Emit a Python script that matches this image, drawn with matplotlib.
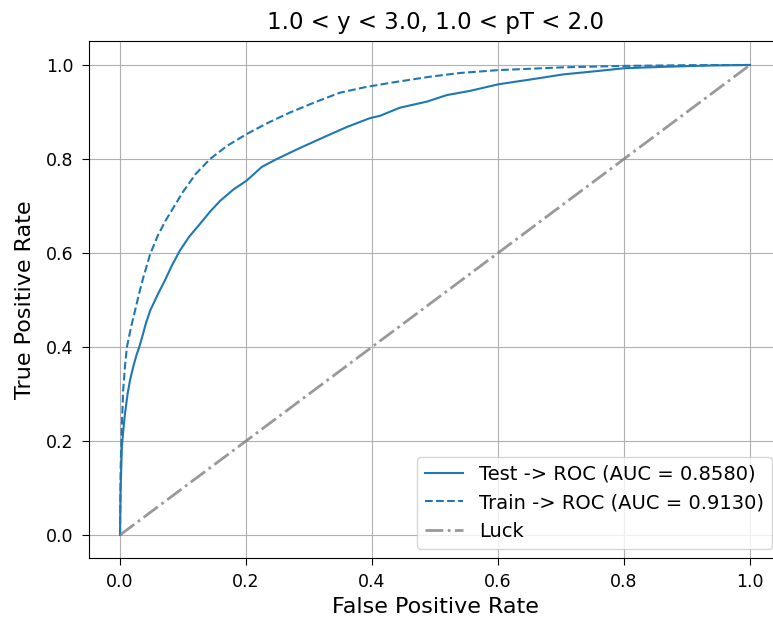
import matplotlib
matplotlib.use('Agg')
import matplotlib.pyplot as plt

# ROC points
test_fpr = [0.0, 0.001, 0.003, 0.005, 0.008, 0.012, 0.016, 0.021, 0.026, 0.031, 0.036,
            0.041, 0.048, 0.053, 0.060, 0.071, 0.083, 0.095, 0.110, 0.127, 0.143, 0.159,
            0.180, 0.201, 0.225, 0.249, 0.285, 0.323, 0.360, 0.397, 0.413, 0.444, 0.487,
            0.519, 0.556, 0.601, 0.651, 0.704, 0.757, 0.800, 0.862, 0.940, 1.0]
test_tpr = [0.0, 0.10, 0.188, 0.22, 0.259, 0.30, 0.33, 0.358, 0.382, 0.402, 0.425,
            0.450, 0.478, 0.492, 0.512, 0.541, 0.575, 0.605, 0.635, 0.662, 0.688, 0.711,
            0.735, 0.754, 0.783, 0.800, 0.823, 0.846, 0.868, 0.887, 0.892, 0.909, 0.922,
            0.936, 0.945, 0.959, 0.969, 0.980, 0.987, 0.993, 0.996, 0.999, 1.0]

train_fpr = [0.0, 0.001, 0.003, 0.005, 0.008, 0.011, 0.014, 0.018, 0.024, 0.030, 0.037,
             0.048, 0.060, 0.072, 0.085, 0.100, 0.120, 0.143, 0.170, 0.201, 0.235, 0.270,
             0.310, 0.349, 0.390, 0.429, 0.492, 0.540, 0.600, 0.704, 0.800, 0.900, 1.0]
train_tpr = [0.0, 0.14, 0.237, 0.308, 0.36, 0.40, 0.42, 0.445, 0.478, 0.512, 0.548,
             0.598, 0.637, 0.668, 0.697, 0.730, 0.768, 0.800, 0.828, 0.853, 0.877, 0.899,
             0.921, 0.941, 0.953, 0.962, 0.975, 0.983, 0.989, 0.995, 0.998, 0.9995, 1.0]

test_auc = 0.8580
train_auc = 0.9130

fig = plt.figure(figsize=(7.73, 6.18), dpi=100)
# right edge of the axes runs past the figure, as in the cropped original
ax = fig.add_axes([0.1145, 0.0963, 0.8965, 0.8366])

ax.plot(test_fpr, test_tpr, color='#1f77b4', lw=1.5,
        label=f'Test -> ROC (AUC = {test_auc:.4f})')
ax.plot(train_fpr, train_tpr, color='#1f77b4', lw=1.5, linestyle='--',
        label=f'Train -> ROC (AUC = {train_auc:.4f})')
ax.plot([0, 1], [0, 1], linestyle='-.', lw=2, color='grey', alpha=0.8, label='Luck')

ax.set_xlim(-0.05, 1.05)
ax.set_ylim(-0.05, 1.05)
ax.set_xlabel('False Positive Rate', fontsize=16, labelpad=4)
ax.set_ylabel('True Positive Rate', fontsize=16, labelpad=8)
ax.set_title('1.0 < y < 3.0, 1.0 < pT < 2.0', fontsize=16.5, pad=9)
ax.tick_params(labelsize=12.5, length=4.8, pad=6)
ax.grid(True)
ax.legend(loc='lower right', fontsize=14)

fig.savefig('out.png', dpi=100)
